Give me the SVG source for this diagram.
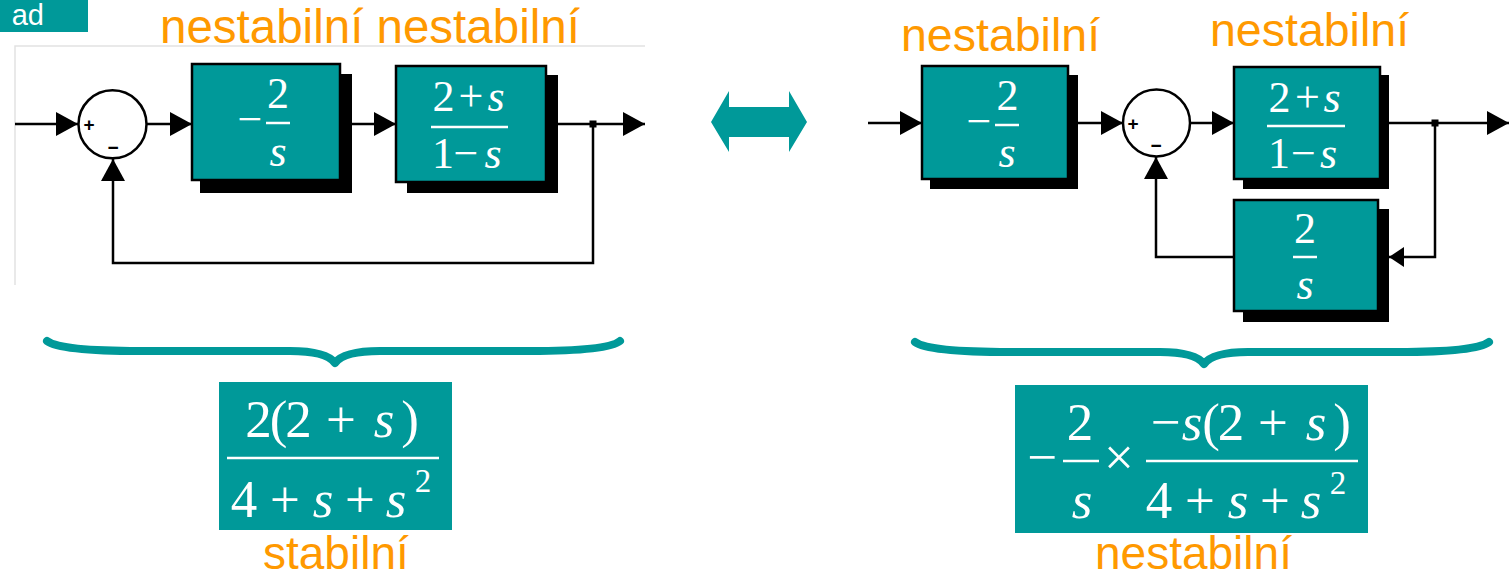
<svg xmlns="http://www.w3.org/2000/svg" width="1509" height="578" viewBox="0 0 1509 578">
<style>
.lbl{font-family:"Liberation Sans",Arial,sans-serif;fill:#FF9900}
.m{font-family:"Liberation Serif","Times New Roman",serif;fill:#fff;text-anchor:middle}
.i{font-style:italic}
.blk{fill:#009999;stroke:#000;stroke-width:2.5}
.sh{fill:#000}
.ln{fill:none;stroke:#000;stroke-width:2.5}
.bar{stroke:#fff;stroke-width:2.5}
.sum{fill:#fff;stroke:#000;stroke-width:2.5}
.sg{font-family:"Liberation Sans",Arial,sans-serif;font-weight:bold;font-size:19px;fill:#000;text-anchor:middle}
.brace{fill:none;stroke:#009999;stroke-width:8;stroke-linecap:round;stroke-linejoin:round}
</style>
<defs>
<marker id="ah" viewBox="0 0 22 24" refX="22" refY="12" markerWidth="22" markerHeight="24" markerUnits="userSpaceOnUse" orient="auto"><path d="M0,0 L22,12 L0,24 z" fill="#000"/></marker>
<marker id="ahs" viewBox="0 0 15 20" refX="15" refY="10" markerWidth="15" markerHeight="20" markerUnits="userSpaceOnUse" orient="auto"><path d="M0,0 L15,10 L0,20 z" fill="#000"/></marker>
</defs>

<g id="title-tab">
<rect x="0" y="0" width="88" height="32" fill="#009999"/>
<text x="44" y="25" font-family="Liberation Sans,Arial,sans-serif" font-size="29" fill="#fff" text-anchor="end">ad</text>
</g>

<g id="frame">
<path d="M15,285 V46 H645" fill="none" stroke="#e2e2e2" stroke-width="1.5"/>
</g>

<g id="labels">
<text class="lbl" x="160" y="43" font-size="47.5">nestabilní nestabilní</text>
<text class="lbl" x="901" y="51" font-size="46.5">nestabilní</text>
<text class="lbl" x="1210" y="46" font-size="46.5">nestabilní</text>
<text class="lbl" x="263" y="569" font-size="46">stabilní</text>
<text class="lbl" x="1095" y="569" font-size="46">nestabilní</text>
</g>

<g id="connectors">
<line class="ln" x1="15" y1="124" x2="78" y2="124" marker-end="url(#ah)"/>
<line class="ln" x1="147" y1="124" x2="192" y2="124" marker-end="url(#ah)"/>
<line class="ln" x1="352" y1="124" x2="396" y2="124" marker-end="url(#ah)"/>
<line class="ln" x1="558" y1="124" x2="645" y2="124" marker-end="url(#ah)"/>
<polyline class="ln" points="593,124 593,263 113,263 113,159" marker-end="url(#ah)"/>
<rect x="589.5" y="120.5" width="7" height="7" fill="#000"/>
<line class="ln" x1="868" y1="123" x2="922" y2="123" marker-end="url(#ah)"/>
<line class="ln" x1="1078" y1="123" x2="1123" y2="123" marker-end="url(#ah)"/>
<line class="ln" x1="1190" y1="123" x2="1234" y2="123" marker-end="url(#ah)"/>
<line class="ln" x1="1389" y1="123" x2="1509" y2="123" marker-end="url(#ah)"/>
<polyline class="ln" points="1435,123 1435,257 1389,257" marker-end="url(#ahs)"/>
<polyline class="ln" points="1234,257 1156,257 1156,157" marker-end="url(#ah)"/>
<rect x="1431.5" y="119.5" width="7" height="7" fill="#000"/>
</g>

<g id="sum-left">
<circle class="sum" cx="112.5" cy="124.3" r="34"/>
<text class="sg" x="89" y="131">+</text>
<text class="sg" x="113" y="154">−</text>
</g>

<g id="block-L1">
<rect class="sh" x="200" y="74" width="152" height="119"/>
<rect class="blk" x="192" y="64" width="148" height="116"/>
<text class="m" x="250" y="134" font-size="44">−</text>
<text class="m" x="278" y="108" font-size="44">2</text>
<line class="bar" x1="266" y1="123" x2="290" y2="123"/>
<text class="m i" x="278" y="166" font-size="44">s</text>
</g>

<g id="block-L2">
<rect class="sh" x="407" y="75" width="151" height="118"/>
<rect class="blk" x="396" y="66" width="150" height="116"/>
<text class="m" x="443.5 471" y="111" font-size="44">2+<tspan class="i" x="496">s</tspan></text>
<line class="bar" x1="431" y1="127" x2="508" y2="127"/>
<text class="m" x="443 466" y="168" font-size="44">1−<tspan class="i" x="493">s</tspan></text>
</g>

<g id="double-arrow">
<polygon points="711,122 729,91 729,107 789,107 789,91 807,122 789,152 789,137 729,137 729,152" fill="#009999"/>
</g>

<g id="block-RA">
<rect class="sh" x="930" y="75" width="148" height="114"/>
<rect class="blk" x="922" y="66" width="146" height="113"/>
<text class="m" x="979" y="136" font-size="44">−</text>
<text class="m" x="1007.5" y="110" font-size="44">2</text>
<line class="bar" x1="995" y1="125" x2="1019" y2="125"/>
<text class="m i" x="1007" y="167" font-size="44">s</text>
</g>

<g id="sum-right">
<circle class="sum" cx="1156.5" cy="123" r="33.5"/>
<text class="sg" x="1133" y="130">+</text>
<text class="sg" x="1156" y="152">−</text>
</g>

<g id="block-RB">
<rect class="sh" x="1243" y="75" width="146" height="114"/>
<rect class="blk" x="1234" y="67" width="146" height="112"/>
<text class="m" x="1279.5 1307.5" y="112" font-size="44">2+<tspan class="i" x="1332">s</tspan></text>
<line class="bar" x1="1267" y1="126" x2="1345" y2="126"/>
<text class="m" x="1279 1303.5" y="168" font-size="44">1−<tspan class="i" x="1328.5">s</tspan></text>
</g>

<g id="block-RC">
<rect class="sh" x="1243" y="209" width="146" height="113"/>
<rect class="blk" x="1234" y="200" width="144" height="111"/>
<text class="m" x="1305" y="243" font-size="44">2</text>
<line class="bar" x1="1293" y1="257" x2="1317" y2="257"/>
<text class="m i" x="1305" y="299" font-size="44">s</text>
</g>

<g id="braces">
<path class="brace" d="M47,341 Q60,351 140,351 L290,351 Q326,351 335,363 Q344,351 380,351 L530,351 Q608,351 620,341"/>
<path class="brace" d="M915,342 Q928,352 1010,352 L1160,352 Q1195,352 1204,364 Q1213,352 1248,352 L1398,352 Q1476,352 1489,342"/>
</g>

<g id="formula-left">
<rect x="219" y="382" width="233" height="148" fill="#009999"/>
<text class="m" x="258.5 278.5 298.5 341" y="437" font-size="53">2(2+<tspan class="i" x="384">s</tspan><tspan x="410">)</tspan></text>
<line class="bar" x1="227" y1="458" x2="439" y2="458" stroke-width="3"/>
<text class="m" x="244 285" y="517" font-size="53">4+<tspan class="i" x="323">s</tspan><tspan x="360">+</tspan><tspan class="i" x="396">s</tspan></text>
<text class="m" x="423" y="492" font-size="33">2</text>
</g>

<g id="formula-right">
<rect x="1015" y="385" width="353" height="148" fill="#009999"/>
<text class="m" x="1042.5" y="475" font-size="53">−</text>
<text class="m" x="1080" y="440" font-size="53">2</text>
<line class="bar" x1="1063" y1="461" x2="1099" y2="461" stroke-width="3"/>
<text class="m i" x="1082" y="518" font-size="53">s</text>
<text class="m" x="1119" y="475" font-size="53">×</text>
<line class="bar" x1="1146" y1="461" x2="1358" y2="461" stroke-width="3"/>
<text class="m" x="1166" y="440" font-size="53">−<tspan class="i" x="1192">s</tspan><tspan x="1211">(</tspan><tspan x="1231">2</tspan><tspan x="1273">+</tspan><tspan class="i" x="1316">s</tspan><tspan x="1342">)</tspan></text>
<text class="m" x="1159 1200" y="518" font-size="53">4+<tspan class="i" x="1238">s</tspan><tspan x="1275">+</tspan><tspan class="i" x="1311">s</tspan></text>
<text class="m" x="1338" y="494" font-size="33">2</text>
</g>
</svg>
